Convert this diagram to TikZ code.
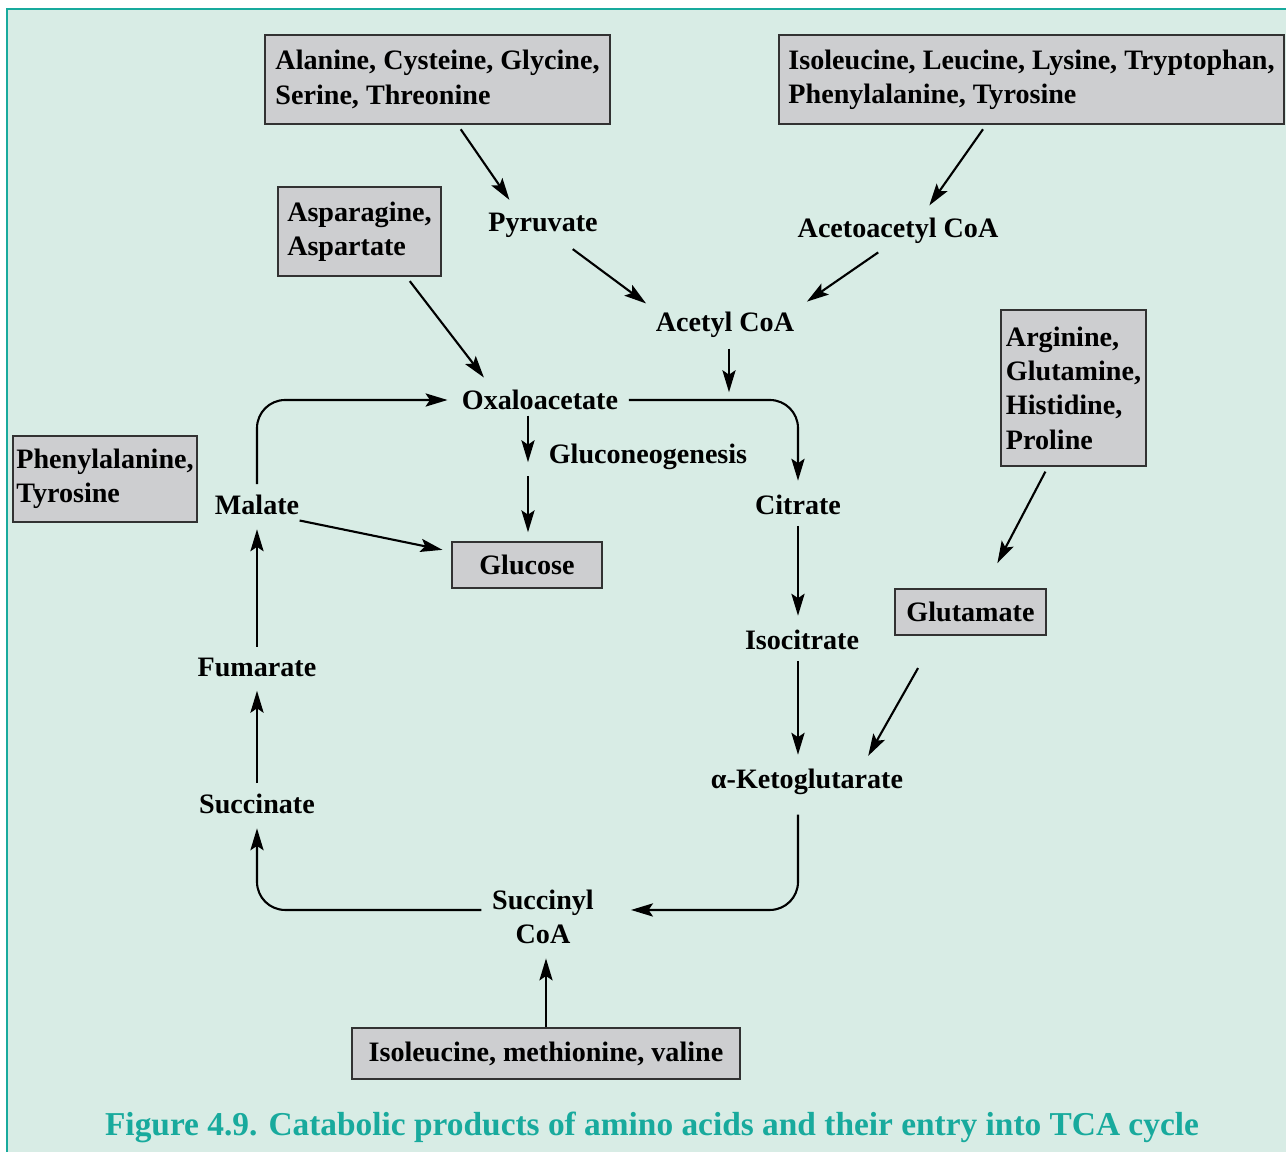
\documentclass[tikz,border=0pt]{standalone}
\usepackage{fontspec}
\setmainfont{Liberation Serif}
\usetikzlibrary{arrows.meta}
\definecolor{mint}{RGB}{216,236,229}
\definecolor{tealline}{RGB}{24,170,157}
\definecolor{boxgray}{RGB}{205,206,208}
\definecolor{boxline}{RGB}{50,50,50}
\begin{document}
\begin{tikzpicture}[
		x=0.02cm, y=-0.02cm,
		box/.style = {rectangle, draw=boxline, fill=boxgray, line width=1.1pt, align=left, inner sep=0pt, font=\bfseries\fontsize{16}{19.5}\selectfont},
		lbl/.style = {align=center, inner sep=3pt, font=\bfseries\fontsize{16}{19.5}\selectfont},
		r/.style = {-{Stealth[length=12.5pt, width=7.5pt, inset=2.5pt]}, line width=1.2pt, rounded corners=16pt, shorten <=3pt, shorten >=5pt},
		]
		
		%Frame
		\useasboundingbox (0,0) rectangle (1286,1152);
		\fill[mint] (7,9) rectangle (1286,1152);
		\draw[tealline, line width=1.6pt] (7,1152) -- (7,9) -- (1286,9);
		
		%Nodes
		\node[box, minimum width=6.9cm, minimum height=1.78cm]		(ala)	at (437.5, 79.5)	{Alanine, Cysteine, Glycine,\\Serine, Threonine};
		\node[box, minimum width=10.1cm, minimum height=1.78cm]		(ile)	at (1031.5, 79.5)	{Isoleucine, Leucine, Lysine, Tryptophan,\\Phenylalanine, Tyrosine};
		\node[box, minimum width=3.26cm, minimum height=1.78cm]		(asn)	at (359.5, 231.5)	{Asparagine,\\Aspartate};
		\node[box, minimum width=2.9cm, minimum height=3.12cm]		(arg)	at (1073.5, 388)	{Arginine,\\Glutamine,\\Histidine,\\Proline};
		\node[box, minimum width=3.68cm, minimum height=1.72cm]		(phe)	at (105, 479)		{Phenylalanine,\\Tyrosine};
		\node[box, minimum width=3cm, minimum height=0.92cm]		(glc)	at (527, 565)		{Glucose};
		\node[box, minimum width=3.02cm, minimum height=0.92cm]		(glu)	at (970.5, 612)		{Glutamate};
		\node[box, minimum width=7.76cm, minimum height=1.02cm]		(imv)	at (546, 1053.5)	{Isoleucine, methionine, valine};
		
		\node[lbl]	(pyr)	at (543, 225)	{Pyruvate};
		\node[lbl]	(aca)	at (898, 231)	{Acetoacetyl CoA};
		\node[lbl]	(acoa)	at (725, 325)	{Acetyl CoA};
		\node[lbl]	(oaa)	at (540, 400)	{Oxaloacetate};
		\node[lbl]	(gng)	at (648, 457)	{Gluconeogenesis};
		\node[lbl]	(mal)	at (257, 505)	{Malate};
		\node[lbl]	(cit)	at (798, 505)	{Citrate};
		\node[lbl]	(icit)	at (802, 640)	{Isocitrate};
		\node[lbl]	(fum)	at (257, 667)	{Fumarate};
		\node[lbl]	(akg)	at (807, 782)	{α-Ketoglutarate};
		\node[lbl]	(suc)	at (257, 804)	{Succinate};
		\node[lbl]	(scoa)	at (543, 917)	{Succinyl\\CoA};
		\node[lbl, text=tealline, font=\bfseries\fontsize{19}{22}\selectfont]	(cap)	at (652, 1127)	{Figure 4.9. Catabolic products of amino acids and their entry into TCA cycle};
		
		\coordinate	(join)	at (729, 401);
		\coordinate	(split)	at (528, 471);
		
		%Lines
		\draw[r]	(ala.-66)	--	(pyr.148);
		\draw[r, shorten <=6pt, shorten >=3pt]	(pyr.-40)	--	(acoa.north west);
		\draw[r]	(ile.-135)	--	(aca.35);
		\draw[r]	(aca.-130)	--	(acoa.north east);
		\draw[r]	(join |- acoa.south)	--	(join);
		\draw[r]	(asn.-44)	--	(oaa.163);
		\draw[r]	(oaa.east)	-|	(cit.north);
		\draw[r, shorten <=0pt]	(oaa.south -| split)	--	(split);
		\draw[r]	(split)	--	(glc.north -| split);
		\draw[r]	(mal.north)	|-	(oaa.west);
		\draw[r, shorten <=0pt]	(mal.-20)	--	(glc.170);
		\draw[r]	(cit.south)	--	(icit.north -| cit.south);
		\draw[r]	(icit.south -| cit.south)	--	(akg.north -| cit.south);
		\draw[r, shorten >=16pt]	(arg.-108)	--	(glu.60);
		\draw[r, shorten <=21pt]	(glu.-145)	--	(akg.18);
		\draw[r, shorten <=8pt, shorten >=18pt]	(akg.south -| cit.south)	|-	([yshift=4pt]scoa.east);
		\draw[r]	([yshift=4pt]scoa.west)	-|	(suc.south);
		\draw[r]	(suc.north)	--	(fum.south);
		\draw[r]	(fum.north)	--	(mal.south);
		\draw[r, shorten <=0pt]	(imv.north)	--	(imv.north |- scoa.south);
\end{tikzpicture}
\end{document}
